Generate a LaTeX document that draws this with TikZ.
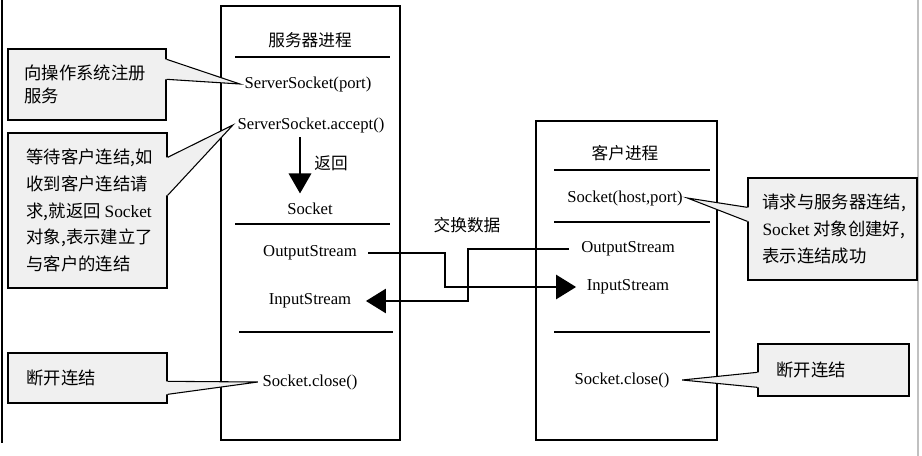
\documentclass[tikz,border=0pt]{standalone}
\usepackage{fontspec}
\setmainfont{Liberation Serif}
\newfontfamily\cjk{Noto Sans CJK SC}
\usetikzlibrary{arrows.meta,calc,positioning}
\definecolor{calloutgray}{RGB}{240,240,240}
\definecolor{edgegray}{RGB}{192,192,192}
\tikzset{
  procbox/.style={line width=1.2pt},
  sepline/.style={line width=1pt},
  proctext/.style={font=\fontsize{12.5}{15}\selectfont},
  callbox/.style={draw, line width=1pt, fill=calloutgray, inner sep=0pt},
  calltext/.style={font=\cjk\fontsize{13}{20}\selectfont, align=left, inner sep=0pt},
  pointer/.style={line width=0.8pt},
  flow/.style={line width=2pt, -{Triangle[length=15pt,width=18pt]}},
  retarrow/.style={line width=1pt, -{Triangle[length=15pt,width=17pt]}}
}

\begin{document}
\begin{tikzpicture}[x=0.75pt,y=-0.75pt]
    \useasboundingbox (0,0) rectangle (922,456);
    % frame edges
    \draw[line width=1.2pt] (2,0) -- (2,443);
    \draw[edgegray, line width=1pt] (918,0) -- (918,456);

    % server process
    \draw[procbox] (221,6) rectangle (400,440);
    \node[proctext] (srvtitle) at (310,40) {\cjk 服务器进程};
    \draw[sepline] (235,57) -- (390,57);
    \node[proctext] (ssport) at (308,84) {ServerSocket(port)};
    \node[proctext] (ssaccept) at (311,125) {ServerSocket.accept()};
    \node[proctext] (srvsock) at (310,209) {Socket};
    \draw[sepline] (235,224) -- (390,224);
    \node[proctext] (srvout) at (310,253) {OutputStream};
    \node[proctext] (srvin) at (310,301) {InputStream};
    \draw[sepline] (239,332) -- (393,332);
    \node[proctext] (srvclose) at (310,382) {Socket.close()};
    \coordinate (retx) at (300,0);
    \draw[retarrow] (ssaccept.south -| retx) -- ($(srvsock.north -| retx)+(0,-5)$);
    \node[proctext] (retlabel) at (331,163) {\cjk 返回};

    % client process
    \draw[procbox] (536,121) rectangle (717,440);
    \node[proctext] (clititle) at (625,153) {\cjk 客户进程};
    \draw[sepline] (554,170) -- (710,170);
    \node[proctext] (clisock) at (625,198) {Socket(host,port)};
    \draw[sepline] (554,222) -- (710,222);
    \node[proctext] (cliout) at (628,249) {OutputStream};
    \node[proctext] (cliin) at (628,287) {InputStream};
    \draw[sepline] (554,332) -- (710,332);
    \node[proctext] (cliclose) at (622,380) {Socket.close()};

    % data exchange
    \node[proctext] (xchg) at (467,225) {\cjk 交换数据};
    \coordinate (jA) at (445,0);
    \coordinate (jB) at (468,0);
    \draw[flow] ($(srvout.east)+(7,0)$) -| (jA |- cliin.west) -- ($(cliin.west)+(-6,0)$);
    \draw[flow] ($(cliout.west)+(-8,0)$) -| (jB |- srvin.west) -- ($(srvin.east)+(10,0)$);

    % callouts, server side
    \node[callbox, minimum width=118.5pt, minimum height=53.25pt] (regbox) at (87,84.5) {};
    \fill[calloutgray] ($(regbox.north east)+(-2,11)$) -- ($(regbox.north east)+(0,11)$) -- (ssport.west) -- ($(regbox.north east)+(0,31)$) -- ($(regbox.north east)+(-2,31)$) -- cycle;
    \draw[pointer] ($(regbox.north east)+(0,11)$) -- (ssport.west) -- ($(regbox.north east)+(0,31)$);
    \node[calltext, font=\cjk\fontsize{13}{17.5}\selectfont, right=12.75pt of regbox.west] (regtext) {向操作系统注册\\服务};

    \node[callbox, minimum width=119.25pt, minimum height=116.25pt] (waitbox) at (87.5,210.5) {};
    \fill[calloutgray] ($(waitbox.north east)+(-2,25)$) -- ($(waitbox.north east)+(0,25)$) -- (ssaccept.west) -- ($(waitbox.north east)+(0,63)$) -- ($(waitbox.north east)+(-2,63)$) -- cycle;
    \draw[pointer] ($(waitbox.north east)+(0,25)$) -- (ssaccept.west) -- ($(waitbox.north east)+(0,63)$);
    \node[calltext, right=14.25pt of waitbox.west] (waittext) {等待客户连结,如\\收到客户连结请\\求,就返回 {\rmfamily Socket}\\对象,表示建立了\\与客户的连结};

    \node[callbox, minimum width=119.25pt, minimum height=37.5pt] (srvcutbox) at (87.5,378) {};
    \fill[calloutgray] ($(srvcutbox.north east)+(-2,29)$) -- ($(srvcutbox.north east)+(0,29)$) -- (srvclose.west) -- ($(srvcutbox.north east)+(0,42)$) -- ($(srvcutbox.north east)+(-2,42)$) -- cycle;
    \draw[pointer] ($(srvcutbox.north east)+(0,29)$) -- (srvclose.west) -- ($(srvcutbox.north east)+(0,42)$);
    \node[calltext, right=14.25pt of srvcutbox.west] (srvcuttext) {断开连结};

    % callouts, client side
    \node[callbox, minimum width=126.75pt, minimum height=76.5pt] (reqbox) at (832.5,229) {};
    \fill[calloutgray] ($(reqbox.north west)+(2,30)$) -- ($(reqbox.north west)+(0,30)$) -- (clisock.east) -- ($(reqbox.north west)+(0,44)$) -- ($(reqbox.north west)+(2,44)$) -- cycle;
    \draw[pointer] ($(reqbox.north west)+(0,30)$) -- (clisock.east) -- ($(reqbox.north west)+(0,44)$);
    \node[calltext, right=11.25pt of reqbox.west] (reqtext) {请求与服务器连结,\\{\rmfamily Socket} 对象创建好,\\表示连结成功};

    \node[callbox, minimum width=113.25pt, minimum height=39pt] (clicutbox) at (833.5,370) {};
    \fill[calloutgray] ($(clicutbox.north west)+(2,29)$) -- ($(clicutbox.north west)+(0,29)$) -- ($(cliclose.east)+(8,0)$) -- ($(clicutbox.north west)+(0,44)$) -- ($(clicutbox.north west)+(2,44)$) -- cycle;
    \draw[pointer] ($(clicutbox.north west)+(0,29)$) -- ($(cliclose.east)+(8,0)$) -- ($(clicutbox.north west)+(0,44)$);
    \node[calltext, right=14.25pt of clicutbox.west] (clicuttext) {断开连结};
\end{tikzpicture}
\end{document}
